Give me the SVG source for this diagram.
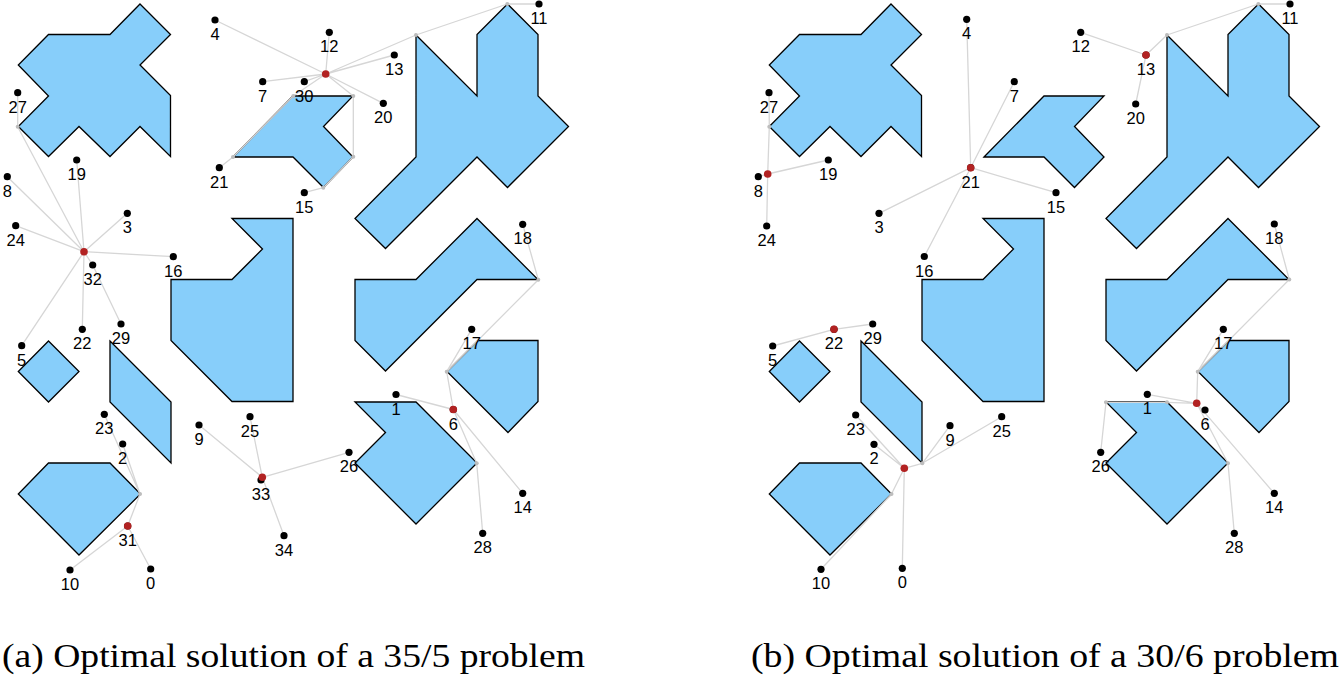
<svg xmlns="http://www.w3.org/2000/svg" xmlns:xlink="http://www.w3.org/1999/xlink" width="1341" height="677" viewBox="0 0 1341 677">
<style>
.obs{fill:#87cefa;stroke:#000;stroke-width:1.3;stroke-linejoin:miter}
.con{fill:none;stroke:#d6d6d6;stroke-width:1.3;stroke-linejoin:round}
.pt{fill:#000}
.hub{fill:#b22222}
.bend{fill:#bdbdbd}
text{fill:#000}
</style>
<defs>
<g id="obstacles">
<polygon class="obs" points="140,4 170.5,34.5 140,65 170.5,95.5 170.5,156.5 140,126.5 110,156.5 79,126.5 48.5,156.5 18.3,126.5 48.5,96 18.3,65 48.5,34.5 110,34.5"/>
<polygon class="obs" points="233,157 293,96 353,96 323.5,126.5 353,157 323.5,187.5 293,157"/>
<polygon class="obs" points="416,35 477,96 477,34.5 507.5,4 538,34.5 538,96 568.5,126.5 507.5,187.5 477,157 385.5,248.5 355,218.5 416,157"/>
<polygon class="obs" points="232,218.5 293,218.5 293,401.5 232,401.5 171,340.5 171,279.5 232,279.5 262.5,249"/>
<polygon class="obs" points="477,218.5 538,279.5 477,279.5 385.5,371 355,340.5 355,279.5 416,279.5"/>
<polygon class="obs" points="447,371.5 478,340.5 538,340.5 538,401.5 508,432.5"/>
<polygon class="obs" points="355,402 416,402 477,463 416,524 355,463 385.5,432.5"/>
<polygon class="obs" points="48.5,341 79,371.5 48.5,402 18.3,371.5"/>
<polygon class="obs" points="110,341 171,402 171,463 110,402"/>
<polygon class="obs" points="48.5,463 110,463 140.5,494 79,555 18.3,494"/>
</g>
</defs>

<g id="panel-a">
<use id="obstacles-a" xlink:href="#obstacles"/>
<g id="connectors-a">
<path class="con" d="M325.7,74L215,20 M325.7,74L329.3,32.3 M325.7,74L262.7,81.7 M325.7,74L293.3,96L233,157L219.3,167.7 M325.7,74L304.3,81.7 M325.7,74L394.3,55 M325.7,74L416,35L507.3,4L539,4 M325.7,74L383.3,103.3 M325.7,74L353.3,96L353.3,156.7L323.3,187.7L304.3,192.7"/>
<path class="con" d="M84,251.7L17.7,126.7L17.7,92.7 M84,251.7L7.3,176.7 M84,251.7L76.7,160 M84,251.7L15.7,225.7 M84,251.7L127.3,213.3 M84,251.7L173.3,256.7 M84,251.7L92.7,265L121,324 M84,251.7L82.3,329.3 M84,251.7L21.7,345.7"/>
<path class="con" d="M453.3,409.5L396,394.5 M453.3,409.5L446.7,371.7L471.7,329.3 M446.7,371.7L538.3,279.7L522.7,224.3 M453.3,409.5L522.7,493.3 M453.3,409.5L476.7,463.3L482.7,533.3"/>
<path class="con" d="M262.3,477.3L199,425 M262.3,477.3L250,416.7 M262.3,477.3L349,452.3 M262.3,477.3L284,535.7"/>
<path class="con" d="M127.7,526L140,494L104.3,414.3 M140,494L122.7,444 M127.7,526L70,570 M127.7,526L150.7,569"/>
<g class="bend">
<circle cx="293.3" cy="96" r="2"/><circle cx="233" cy="157" r="2"/><circle cx="416" cy="35" r="2"/><circle cx="507.3" cy="4" r="2"/><circle cx="353.3" cy="96" r="2"/><circle cx="353.3" cy="156.7" r="2"/><circle cx="323.3" cy="187.7" r="2"/><circle cx="17.7" cy="126.7" r="2"/><circle cx="446.7" cy="371.7" r="2"/><circle cx="538.3" cy="279.7" r="2"/><circle cx="476.7" cy="463.3" r="2"/><circle cx="140" cy="494" r="2"/>
</g>
</g>
<g id="nodes-a" font-family="'Liberation Sans', Arial, Helvetica, sans-serif" font-size="16.5" text-anchor="middle">
<g id="a-n0"><circle class="pt" cx="150.7" cy="569" r="3.6"/><text x="150.7" y="589">0</text></g>
<g id="a-n1"><circle class="pt" cx="396" cy="394.5" r="3.6"/><text x="396" y="414.5">1</text></g>
<g id="a-n2"><circle class="pt" cx="122.7" cy="444" r="3.6"/><text x="122.7" y="464">2</text></g>
<g id="a-n3"><circle class="pt" cx="127.3" cy="213.3" r="3.6"/><text x="127.3" y="233.3">3</text></g>
<g id="a-n4"><circle class="pt" cx="215" cy="20" r="3.6"/><text x="215" y="40">4</text></g>
<g id="a-n5"><circle class="pt" cx="21.7" cy="345.7" r="3.6"/><text x="21.7" y="365.7">5</text></g>
<g id="a-n6"><circle class="pt" cx="453.3" cy="409.5" r="3.6"/><text x="453.3" y="429.5">6</text></g>
<g id="a-n7"><circle class="pt" cx="262.7" cy="81.7" r="3.6"/><text x="262.7" y="101.7">7</text></g>
<g id="a-n8"><circle class="pt" cx="7.3" cy="176.7" r="3.6"/><text x="7.3" y="196.7">8</text></g>
<g id="a-n9"><circle class="pt" cx="199" cy="425" r="3.6"/><text x="199" y="445">9</text></g>
<g id="a-n10"><circle class="pt" cx="70" cy="570" r="3.6"/><text x="70" y="590">10</text></g>
<g id="a-n11"><circle class="pt" cx="539" cy="4" r="3.6"/><text x="539" y="24">11</text></g>
<g id="a-n12"><circle class="pt" cx="329.3" cy="32.3" r="3.6"/><text x="329.3" y="52.3">12</text></g>
<g id="a-n13"><circle class="pt" cx="394.3" cy="55" r="3.6"/><text x="394.3" y="75">13</text></g>
<g id="a-n14"><circle class="pt" cx="522.7" cy="493.3" r="3.6"/><text x="522.7" y="513.3">14</text></g>
<g id="a-n15"><circle class="pt" cx="304.3" cy="192.7" r="3.6"/><text x="304.3" y="212.7">15</text></g>
<g id="a-n16"><circle class="pt" cx="173.3" cy="256.7" r="3.6"/><text x="173.3" y="276.7">16</text></g>
<g id="a-n17"><circle class="pt" cx="471.7" cy="329.3" r="3.6"/><text x="471.7" y="349.3">17</text></g>
<g id="a-n18"><circle class="pt" cx="522.7" cy="224.3" r="3.6"/><text x="522.7" y="244.3">18</text></g>
<g id="a-n19"><circle class="pt" cx="76.7" cy="160" r="3.6"/><text x="76.7" y="180">19</text></g>
<g id="a-n20"><circle class="pt" cx="383.3" cy="103.3" r="3.6"/><text x="383.3" y="123.3">20</text></g>
<g id="a-n21"><circle class="pt" cx="219.3" cy="167.7" r="3.6"/><text x="219.3" y="187.7">21</text></g>
<g id="a-n22"><circle class="pt" cx="82.3" cy="329.3" r="3.6"/><text x="82.3" y="349.3">22</text></g>
<g id="a-n23"><circle class="pt" cx="104.3" cy="414.3" r="3.6"/><text x="104.3" y="434.3">23</text></g>
<g id="a-n24"><circle class="pt" cx="15.7" cy="225.7" r="3.6"/><text x="15.7" y="245.7">24</text></g>
<g id="a-n25"><circle class="pt" cx="250" cy="416.7" r="3.6"/><text x="250" y="436.7">25</text></g>
<g id="a-n26"><circle class="pt" cx="349" cy="452.3" r="3.6"/><text x="349" y="472.3">26</text></g>
<g id="a-n27"><circle class="pt" cx="17.7" cy="92.7" r="3.6"/><text x="17.7" y="112.7">27</text></g>
<g id="a-n28"><circle class="pt" cx="482.7" cy="533.3" r="3.6"/><text x="482.7" y="553.3">28</text></g>
<g id="a-n29"><circle class="pt" cx="121" cy="324" r="3.6"/><text x="121" y="344">29</text></g>
<g id="a-n30"><circle class="pt" cx="304.3" cy="81.7" r="3.6"/><text x="304.3" y="101.7">30</text></g>
<g id="a-n31"><circle class="pt" cx="127.7" cy="526" r="3.6"/><text x="127.7" y="546">31</text></g>
<g id="a-n32"><circle class="pt" cx="92.7" cy="265" r="3.6"/><text x="92.7" y="285">32</text></g>
<g id="a-n33"><circle class="pt" cx="261" cy="480" r="3.6"/><text x="261" y="500">33</text></g>
<g id="a-n34"><circle class="pt" cx="284" cy="535.7" r="3.6"/><text x="284" y="555.7">34</text></g>
<g id="a-hubs">
<circle class="hub" cx="325.7" cy="74" r="3.8"/><circle class="hub" cx="84" cy="251.7" r="3.8"/><circle class="hub" cx="453.3" cy="409.5" r="3.8"/><circle class="hub" cx="262.3" cy="477.3" r="3.8"/><circle class="hub" cx="127.7" cy="526" r="3.8"/>
</g>
</g>
<text x="2" y="667" font-family="'Liberation Serif', 'Times New Roman', 'DejaVu Serif', serif" font-size="34" textLength="583" lengthAdjust="spacingAndGlyphs">(a) Optimal solution of a 35/5 problem</text>
</g>

<g id="panel-b">
<use id="obstacles-b" xlink:href="#obstacles" transform="translate(751,0)"/>
<g id="connectors-b">
<path class="con" d="M767.7,174L769.3,126.7L769,92.7 M767.7,174L828.3,160 M767.7,174L766.7,226 M767.7,174L758.3,176.7"/>
<path class="con" d="M970.7,167.7L966.7,19.3 M970.7,167.7L1014.3,81.7 M970.7,167.7L879,213.3 M970.7,167.7L924.3,256.5 M970.7,167.7L1056,192.7"/>
<path class="con" d="M1080.7,32.3L1146,55 M1146,55L1135.7,104 M1146,55L1167,35L1258.3,4L1290,4"/>
<path class="con" d="M772.7,346L834,329.3L872.7,324"/>
<path class="con" d="M904.3,468.3L855.7,415 M904.3,468.3L874,444.3 M904.3,468.3L922.3,463.3L950,425.7 M922.3,463.3L1001.7,416.7 M904.3,468.3L891.5,494L821,569.3 M904.3,468.3L902.3,568.3"/>
<path class="con" d="M1274.3,224L1289.3,279.5L1197.7,371.7L1196.7,403.3 M1223.3,329.3L1197.7,371.7 M1147.3,394.3L1196.7,403.3 M1196.7,403.3L1167,402.3L1106,402.3L1100.7,452.3 M1196.7,403.3L1274.3,493.3 M1196.7,403.3L1228,463.3L1234.3,533.3"/>
<g class="bend">
<circle cx="769.3" cy="126.7" r="2"/><circle cx="1167" cy="35" r="2"/><circle cx="1258.3" cy="4" r="2"/><circle cx="922.3" cy="463.3" r="2"/><circle cx="891.5" cy="494" r="2"/><circle cx="1289.3" cy="279.5" r="2"/><circle cx="1197.7" cy="371.7" r="2"/><circle cx="1167" cy="402.3" r="2"/><circle cx="1106" cy="402.3" r="2"/><circle cx="1228" cy="463.3" r="2"/>
</g>
</g>
<g id="nodes-b" font-family="'Liberation Sans', Arial, Helvetica, sans-serif" font-size="16.5" text-anchor="middle">
<g id="b-n0"><circle class="pt" cx="902.3" cy="568.3" r="3.6"/><text x="902.3" y="588.3">0</text></g>
<g id="b-n1"><circle class="pt" cx="1147.3" cy="394.3" r="3.6"/><text x="1147.3" y="414.3">1</text></g>
<g id="b-n2"><circle class="pt" cx="874" cy="444.3" r="3.6"/><text x="874" y="464.3">2</text></g>
<g id="b-n3"><circle class="pt" cx="879" cy="213.3" r="3.6"/><text x="879" y="233.3">3</text></g>
<g id="b-n4"><circle class="pt" cx="966.7" cy="19.3" r="3.6"/><text x="966.7" y="39.3">4</text></g>
<g id="b-n5"><circle class="pt" cx="772.7" cy="346" r="3.6"/><text x="772.7" y="366">5</text></g>
<g id="b-n6"><circle class="pt" cx="1205" cy="410" r="3.6"/><text x="1205" y="430">6</text></g>
<g id="b-n7"><circle class="pt" cx="1014.3" cy="81.7" r="3.6"/><text x="1014.3" y="101.7">7</text></g>
<g id="b-n8"><circle class="pt" cx="758.3" cy="176.7" r="3.6"/><text x="758.3" y="196.7">8</text></g>
<g id="b-n9"><circle class="pt" cx="950" cy="425.7" r="3.6"/><text x="950" y="445.7">9</text></g>
<g id="b-n10"><circle class="pt" cx="821" cy="569.3" r="3.6"/><text x="821" y="589.3">10</text></g>
<g id="b-n11"><circle class="pt" cx="1290" cy="4" r="3.6"/><text x="1290" y="24">11</text></g>
<g id="b-n12"><circle class="pt" cx="1080.7" cy="32.3" r="3.6"/><text x="1080.7" y="52.3">12</text></g>
<g id="b-n13"><circle class="pt" cx="1146" cy="55" r="3.6"/><text x="1146" y="75">13</text></g>
<g id="b-n14"><circle class="pt" cx="1274.3" cy="493.3" r="3.6"/><text x="1274.3" y="513.3">14</text></g>
<g id="b-n15"><circle class="pt" cx="1056" cy="192.7" r="3.6"/><text x="1056" y="212.7">15</text></g>
<g id="b-n16"><circle class="pt" cx="924.3" cy="256.5" r="3.6"/><text x="924.3" y="276.5">16</text></g>
<g id="b-n17"><circle class="pt" cx="1223.3" cy="329.3" r="3.6"/><text x="1223.3" y="349.3">17</text></g>
<g id="b-n18"><circle class="pt" cx="1274.3" cy="224" r="3.6"/><text x="1274.3" y="244">18</text></g>
<g id="b-n19"><circle class="pt" cx="828.3" cy="160" r="3.6"/><text x="828.3" y="180">19</text></g>
<g id="b-n20"><circle class="pt" cx="1135.7" cy="104" r="3.6"/><text x="1135.7" y="124">20</text></g>
<g id="b-n21"><circle class="pt" cx="970.7" cy="167.7" r="3.6"/><text x="970.7" y="187.7">21</text></g>
<g id="b-n22"><circle class="pt" cx="834" cy="329.3" r="3.6"/><text x="834" y="349.3">22</text></g>
<g id="b-n23"><circle class="pt" cx="855.7" cy="415" r="3.6"/><text x="855.7" y="435">23</text></g>
<g id="b-n24"><circle class="pt" cx="766.7" cy="226" r="3.6"/><text x="766.7" y="246">24</text></g>
<g id="b-n25"><circle class="pt" cx="1001.7" cy="416.7" r="3.6"/><text x="1001.7" y="436.7">25</text></g>
<g id="b-n26"><circle class="pt" cx="1100.7" cy="452.3" r="3.6"/><text x="1100.7" y="472.3">26</text></g>
<g id="b-n27"><circle class="pt" cx="769" cy="92.7" r="3.6"/><text x="769" y="112.7">27</text></g>
<g id="b-n28"><circle class="pt" cx="1234.3" cy="533.3" r="3.6"/><text x="1234.3" y="553.3">28</text></g>
<g id="b-n29"><circle class="pt" cx="872.7" cy="324" r="3.6"/><text x="872.7" y="344">29</text></g>
<g id="b-hubs">
<circle class="hub" cx="767.7" cy="174" r="3.8"/><circle class="hub" cx="970.7" cy="167.7" r="3.8"/><circle class="hub" cx="1146" cy="55" r="3.8"/><circle class="hub" cx="834" cy="329.3" r="3.8"/><circle class="hub" cx="904.3" cy="468.3" r="3.8"/><circle class="hub" cx="1196.7" cy="403.3" r="3.8"/>
</g>
</g>
<text x="751" y="667" font-family="'Liberation Serif', 'Times New Roman', 'DejaVu Serif', serif" font-size="34" textLength="588" lengthAdjust="spacingAndGlyphs">(b) Optimal solution of a 30/6 problem</text>
</g>
</svg>
